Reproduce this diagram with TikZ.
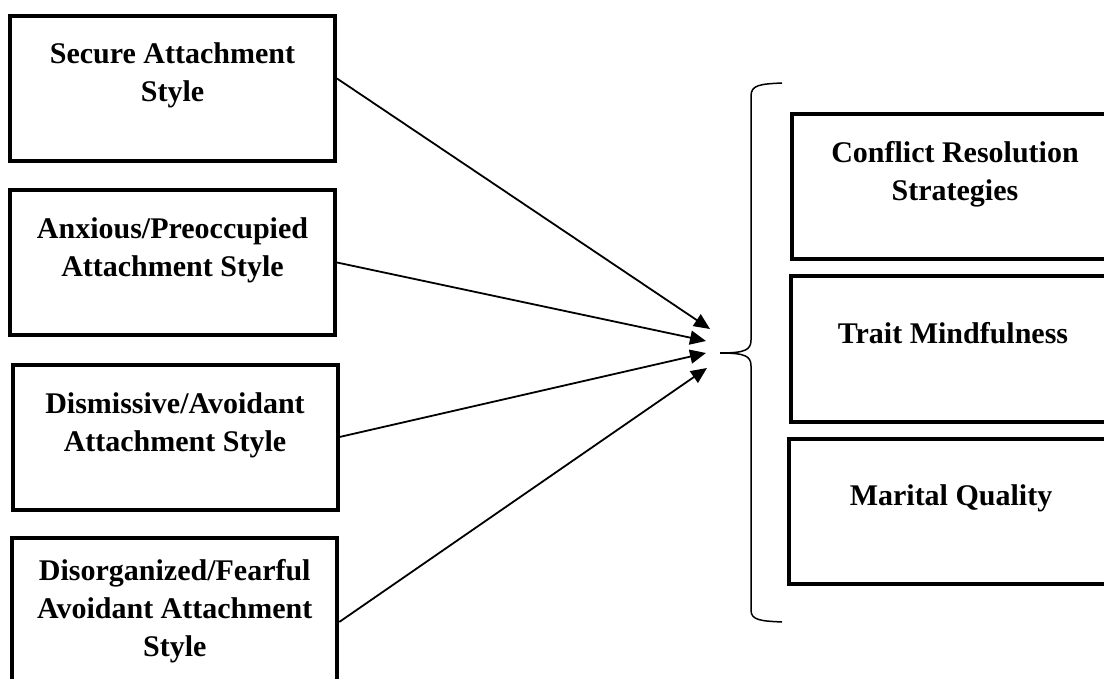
\documentclass[tikz,border=0pt]{standalone}
\usepackage{fontspec}
\setmainfont{Liberation Serif}
\usetikzlibrary{arrows.meta}

\tikzset{
  box/.style={draw, line width=4pt, minimum width=325pt, minimum height=145pt, inner sep=0pt},
  lbl/.style={align=center, inner sep=0pt, anchor=north, font=\fontsize{30}{38}\selectfont\bfseries},
  link/.style={line width=1.8pt, -{Triangle[length=16pt,width=14pt]}}
}

\begin{document}
\begin{tikzpicture}[x=1pt,y=-1pt]
   \useasboundingbox (0,0) rectangle (1104,679);
   \clip (0,0) rectangle (1104,679);

   % attachment styles
   \node[box] (secure) at (172.5,88.5) {};
   \node[lbl] (secureL) at (172.5,42) {Secure Attachment\\Style};
   \node[box] (anxious) at (172.5,262.5) {};
   \node[lbl] (anxiousL) at (172.5,217) {Anxious/Preoccupied\\Attachment Style};
   \node[box] (dismiss) at (175,437) {};
   \node[lbl] (dismissL) at (175,392) {Dismissive/Avoidant\\Attachment Style};
   \node[box, minimum height=160pt] (fearful) at (174.75,618) {};
   \node[lbl] (fearfulL) at (174.75,559) {Disorganized/Fearful\\Avoidant Attachment\\Style};

   % outcomes
   \node[box, minimum width=324.5pt] (conflict) at (953.75,187) {};
   \node[lbl] (conflictL) at (955,141) {Conflict Resolution\\Strategies};
   \node[box] (mindful) at (953,349) {};
   \node[lbl] (mindfulL) at (953,322) {Trait Mindfulness};
   \node[box] (marital) at (951,511) {};
   \node[lbl] (maritalL) at (951,484) {Marital Quality};

   % brace
   \coordinate (tip) at (720,353);
   \draw[line width=1.5pt] (782,83) .. controls (760,84) and (751,85) .. (751,96)
      -- (751,340) .. controls (751,350) and (745,353) .. (tip)
      .. controls (745,353) and (751,356) .. (751,366)
      -- (751,610) .. controls (751,620) and (760,621) .. (782,622);

   % arrows into the brace
   \coordinate (t1) at (710,329);
   \coordinate (t2) at (706,341);
   \coordinate (t3) at (706,353);
   \coordinate (t4) at (707,368);
   \draw[link] ([yshift=10pt]secure.east) -- (t1);
   \draw[link] (anxious.east) -- (t2);
   \draw[link] (dismiss.east) -- (t3);
   \draw[link] ([yshift=-4pt]fearful.east) -- (t4);
\end{tikzpicture}
\end{document}
